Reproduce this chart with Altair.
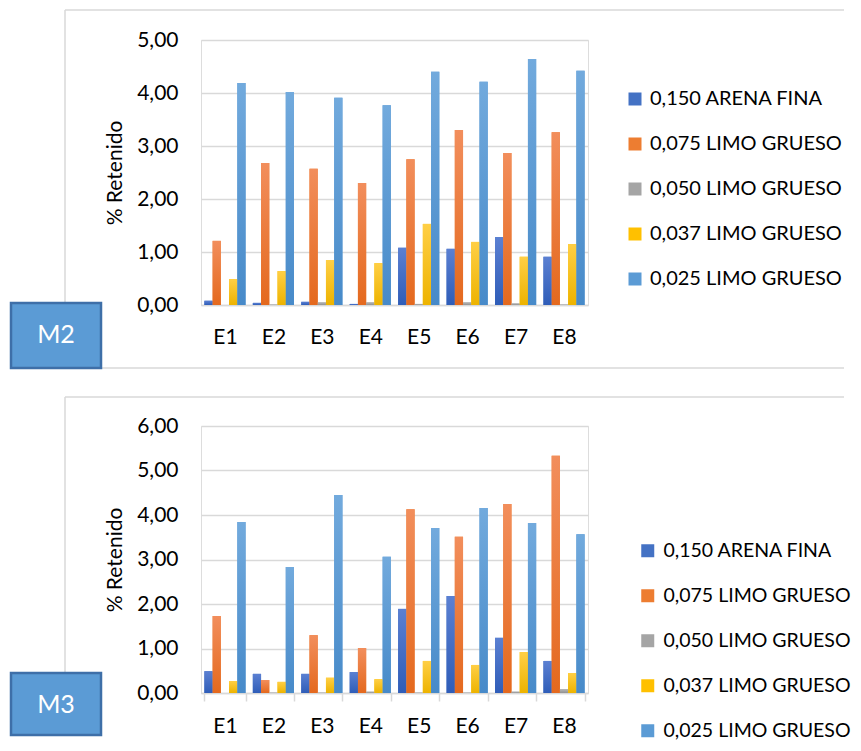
import altair as alt
import pandas as pd

categories = ["E1", "E2", "E3", "E4", "E5", "E6", "E7", "E8"]
series = ["0,150 ARENA FINA", "0,075 LIMO GRUESO", "0,050 LIMO GRUESO",
          "0,037 LIMO GRUESO", "0,025 LIMO GRUESO"]
colors = ["#4472C4", "#ED7D31", "#A5A5A5", "#FFC000", "#5B9BD5"]
grad_top = ["#5B80D2", "#F28E5C", "#B8B8B8", "#FFCF45", "#72AADD"]
grad_bottom = ["#2F5DB8", "#E4691E", "#929292", "#EDB300", "#478AC9"]

# M2
m2_arena_150 = [0.08, 0.04, 0.06, 0.02, 1.08, 1.06, 1.28, 0.91]
m2_limo_075 = [1.21, 2.68, 2.57, 2.30, 2.75, 3.30, 2.87, 3.26]
m2_limo_050 = [0.00, 0.01, 0.05, 0.05, 0.02, 0.05, 0.03, 0.01]
m2_limo_037 = [0.49, 0.64, 0.85, 0.79, 1.53, 1.19, 0.91, 1.15]
m2_limo_025 = [4.19, 4.02, 3.91, 3.77, 4.40, 4.21, 4.64, 4.42]

# M3
m3_arena_150 = [0.49, 0.43, 0.43, 0.47, 1.89, 2.18, 1.24, 0.72]
m3_limo_075 = [1.73, 0.29, 1.30, 1.01, 4.13, 3.51, 4.25, 5.33]
m3_limo_050 = [0.00, 0.01, 0.01, 0.03, 0.01, 0.01, 0.03, 0.09]
m3_limo_037 = [0.27, 0.25, 0.34, 0.31, 0.72, 0.63, 0.92, 0.45]
m3_limo_025 = [3.84, 2.83, 4.45, 3.06, 3.71, 4.16, 3.82, 3.57]

FONT = "Lato"
FS = 21
W = 387
FRAME = "#D9D9D9"


def long_df(cols):
    rows = []
    for s, vals in zip(series, cols):
        for c, v in zip(categories, vals):
            rows.append({"Estación": c, "Serie": s, "Valor": v})
    return pd.DataFrame(rows)


def rule(lab, x, x2, y, y2):
    return alt.Chart(lab).mark_rule(color=FRAME, strokeWidth=1.5).encode(
        x=alt.value(x), x2=alt.value(x2), y=alt.value(y), y2=alt.value(y2))


def panel(name, cols, ymax, height, show_ticks, legend_x, legend_y, row_pad,
          legend_fs, label_offset, frame_top, frame_bottom, draw_bottom,
          box_y, box_y2, text_y, x_label_pad):
    df = long_df(cols)
    x_enc = alt.X("Estación:N", sort=categories,
                  scale=alt.Scale(paddingInner=0.15, paddingOuter=0.07),
                  axis=alt.Axis(title=None, labelAngle=0, labelFont=FONT,
                                labelFontSize=FS, labelColor="#000000",
                                labelPadding=x_label_pad,
                                domainColor=FRAME, domainWidth=1.5,
                                ticks=show_ticks, tickBand="extent",
                                tickColor=FRAME, tickWidth=1.5,
                                tickSize=8 if show_ticks else 0))
    xo_enc = alt.XOffset("Serie:N", sort=series,
                         scale=alt.Scale(domain=series, paddingInner=0,
                                         paddingOuter=0))
    y_enc = alt.Y("Valor:Q",
                  scale=alt.Scale(domain=[0, ymax], nice=False),
                  axis=alt.Axis(title="% Retenido", values=list(range(ymax + 1)),
                                labelExpr="replace(format(datum.value, '.2f'), '.', ',')",
                                labelFont=FONT, labelFontSize=FS,
                                labelColor="#000000", labelPadding=23,
                                ticks=False, tickSize=0, domain=False,
                                gridColor=FRAME, gridWidth=1.5,
                                titleFont=FONT, titleFontSize=FS,
                                titleFontWeight="normal", titleColor="#000000",
                                titlePadding=11))
    bars = alt.Chart(df).mark_bar().encode(
        x=x_enc, xOffset=xo_enc, y=y_enc,
        color=alt.Color("Serie:N", sort=series,
                        scale=alt.Scale(domain=series, range=colors),
                        legend=alt.Legend(title=None, orient="none",
                                          legendX=legend_x, legendY=legend_y,
                                          symbolType="square", symbolSize=169,
                                          symbolStrokeWidth=0,
                                          labelFont=FONT, labelFontSize=legend_fs,
                                          labelColor="#000000", labelLimit=0,
                                          labelOffset=label_offset,
                                          rowPadding=row_pad, padding=0)),
    )
    shaded = []
    for s, ct, cb in zip(series, grad_top, grad_bottom):
        grad = alt.LinearGradient(gradient="linear", x1=0, y1=0, x2=0, y2=1,
                                  stops=[alt.GradientStop(color=ct, offset=0),
                                         alt.GradientStop(color=cb, offset=1)])
        shaded.append(
            alt.Chart(df).transform_filter(alt.datum.Serie == s)
            .mark_bar(color=grad).encode(x=x_enc, xOffset=xo_enc, y=y_enc)
        )
    lab = pd.DataFrame({"label": [name]})
    layers = [rule(lab, -136, 643, frame_top, frame_top),
              rule(lab, -136, -136, frame_top, frame_bottom)]
    if draw_bottom:
        layers.append(rule(lab, -136, 643, frame_bottom, frame_bottom))
    box = alt.Chart(lab).mark_rect(fill="#5B9BD5", stroke="#3E6FA8",
                                   strokeWidth=2.5).encode(
        x=alt.value(-190), x2=alt.value(-100),
        y=alt.value(box_y), y2=alt.value(box_y2))
    txt = alt.Chart(lab).mark_text(color="white", font=FONT, fontSize=25,
                                   align="center", baseline="middle").encode(
        x=alt.value(-145), y=alt.value(text_y), text="label:N")
    layers += [bars] + shaded + [box, txt]
    return alt.layer(*layers).properties(width=W, height=height)


top = panel("M2", [m2_arena_150, m2_limo_075, m2_limo_050, m2_limo_037, m2_limo_025],
            5, 265, False, 424, 49, 25, 20, 5, -30, 328, True, 263, 328, 295, 21)
bottom = panel("M3", [m3_arena_150, m3_limo_075, m3_limo_050, m3_limo_037, m3_limo_025],
               6, 267, True, 437, 115, 24, 19.5, 6, -29, 309, False, 247, 309, 279, 14)

chart = alt.vconcat(top, bottom, spacing=121, bounds="flush").resolve_scale(
    color="independent", x="independent", y="independent"
).properties(
    padding={"left": 1, "top": 0, "right": 0, "bottom": 0}
).configure_view(stroke=None).configure(background="white")

chart.save("out.html", embed_options={"renderer": "svg", "actions": False})
